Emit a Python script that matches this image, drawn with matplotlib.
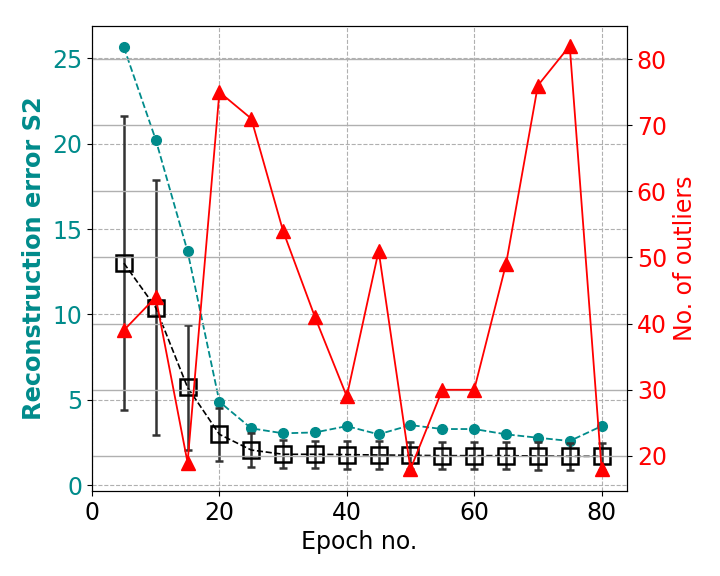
import matplotlib
matplotlib.use("Agg")
import matplotlib.pyplot as plt

epochs = [5, 10, 15, 20, 25, 30, 35, 40, 45, 50, 55, 60, 65, 70, 75, 80]
recon_s2 = [25.65, 20.24, 13.70, 4.88, 3.32, 3.03, 3.08, 3.45, 2.97, 3.51, 3.28, 3.28, 2.97, 2.77, 2.58, 3.45]
mean_err = [13.0, 10.4, 5.72, 2.97, 2.05, 1.80, 1.80, 1.78, 1.76, 1.74, 1.72, 1.72, 1.72, 1.70, 1.68, 1.68]
std_err = [8.6, 7.45, 3.65, 1.55, 0.98, 0.82, 0.80, 0.82, 0.80, 0.80, 0.80, 0.80, 0.80, 0.80, 0.80, 0.80]
outliers = [39, 44, 19, 75, 71, 54, 41, 29, 51, 18, 30, 30, 49, 76, 82, 18]

teal = "#008B8B"
fig = plt.figure(figsize=(7.2, 5.76), dpi=100)
ax1 = fig.add_axes([0.1278, 0.1476, 0.7431, 0.8073])

ax1.plot(epochs, recon_s2, linestyle="--", color=teal, marker="o", markersize=7, linewidth=1.3)
ax1.errorbar(epochs, mean_err, yerr=std_err, fmt="s", color="k", ecolor="#333333",
             linestyle="--", linewidth=1.2, elinewidth=1.8, capsize=3, capthick=1.8,
             markersize=12, markerfacecolor="none", markeredgewidth=1.8, markeredgecolor="k")
ax1.set_xlim(0, 84)
ax1.set_ylim(-0.35, 26.9)
ax1.grid(True, linestyle="--", color="#b0b0b0", linewidth=0.8)
ax1.set_xlabel("Epoch no.", fontsize=17)
ax1.set_ylabel("Reconstruction error S2", color=teal, fontsize=17.3, fontweight="bold")
ax1.tick_params(axis="y", labelcolor=teal, labelsize=17)
ax1.tick_params(axis="x", labelsize=17)

ax2 = ax1.twinx()
ax2.plot(epochs, outliers, color="red", marker="^", markersize=10, linewidth=1.3)
ax2.set_ylim(14.7, 85.0)
ax2.grid(True, linestyle="-", color="#b0b0b0", linewidth=1.0)
ax2.set_ylabel("No. of outliers", color="red", fontsize=17)
ax2.tick_params(axis="y", labelcolor="red", labelsize=17)

fig.savefig("out.png", dpi=100)
